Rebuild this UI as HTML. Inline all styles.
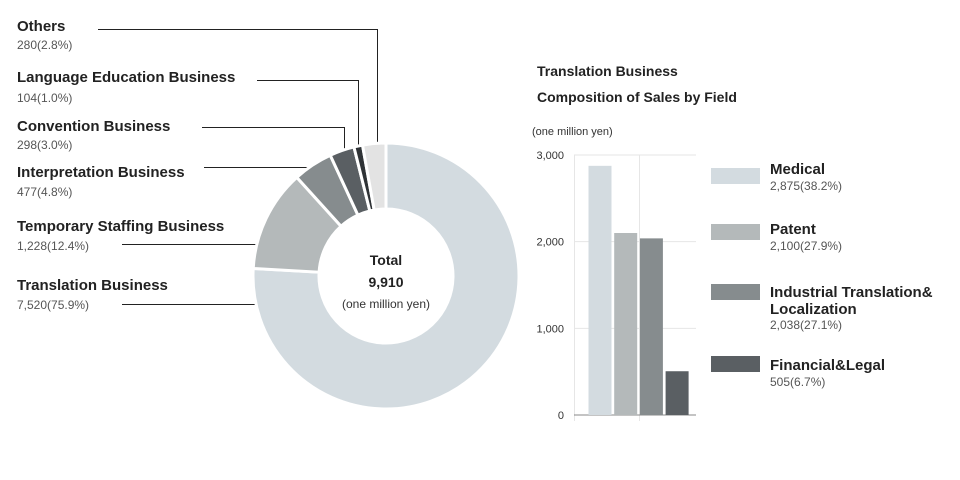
<!DOCTYPE html>
<html><head><meta charset="utf-8"><style>
body{margin:0;background:#fff;font-family:"Liberation Sans","Noto Sans CJK JP",sans-serif;color:#222}
#wrap{position:relative;width:960px;height:480px;overflow:hidden}
.lbl{position:absolute;left:17px;font-size:15px;font-weight:bold;color:#222;white-space:nowrap}
.val{position:absolute;left:17px;font-size:12px;color:#555;white-space:nowrap}
</style></head><body>
<div id="wrap">
<div class="lbl" style="top:18px">Others</div>
<div class="val" style="top:38px">280(2.8%)</div>
<div class="lbl" style="top:69px">Language Education Business</div>
<div class="val" style="top:91px">104(1.0%)</div>
<div class="lbl" style="top:118px">Convention Business</div>
<div class="val" style="top:138px">298(3.0%)</div>
<div class="lbl" style="top:164px">Interpretation Business</div>
<div class="val" style="top:185px">477(4.8%)</div>
<div class="lbl" style="top:218px">Temporary Staffing Business</div>
<div class="val" style="top:239px">1,228(12.4%)</div>
<div class="lbl" style="top:277px">Translation Business</div>
<div class="val" style="top:298px">7,520(75.9%)</div>
<svg id="svg" width="960" height="480" style="position:absolute;left:0;top:0">
<g stroke="#222" stroke-width="1" fill="none">
<polyline points="98,29.5 377.5,29.5 377.5,144"/>
<polyline points="257,80.5 358.5,80.5 358.5,147"/>
<polyline points="202,127.5 344.5,127.5 344.5,150"/>
<polyline points="204,167.5 310,167.5"/>
<polyline points="122,244.5 257,244.5"/>
<polyline points="122,304.5 255,304.5"/>
</g>
<g id="donut"></g>
<text x="386" y="265" text-anchor="middle" font-size="14" font-weight="bold" fill="#222">Total</text>
<text x="386" y="287" text-anchor="middle" font-size="14" font-weight="bold" fill="#222">9,910</text>
<text x="386" y="308" text-anchor="middle" font-size="12" fill="#333">(one million yen)</text>
<text x="537" y="76" font-size="14" font-weight="bold" fill="#222">Translation Business</text>
<text x="537" y="102" font-size="14" font-weight="bold" fill="#222">Composition of Sales by Field</text>
<text x="532" y="135" font-size="11" fill="#333">(one million yen)</text>
<g id="bars"></g>
</svg>
<div class="lbl" style="left:770px;top:161px;line-height:17px">Medical</div>
<div class="val" style="left:770px;top:179px">2,875(38.2%)</div>
<div class="lbl" style="left:770px;top:221px;line-height:17px">Patent</div>
<div class="val" style="left:770px;top:239px">2,100(27.9%)</div>
<div class="lbl" style="left:770px;top:284px;line-height:17px">Industrial Translation&amp;<br>Localization</div>
<div class="val" style="left:770px;top:318px">2,038(27.1%)</div>
<div class="lbl" style="left:770px;top:357px;line-height:17px">Financial&amp;Legal</div>
<div class="val" style="left:770px;top:375px">505(6.7%)</div>
</div>
<script>
const donutNames=["translation","temporary-staffing","interpretation","convention","language-education","others"];
const donutValues=[7520,1228,477,298,104,280];
const donutColors=["#d3dbe0","#b4b9ba","#868c8e","#5a5f63","#2f3336","#e3e3e3"];
const barNames=["medical","patent","industrial","financial"];
const barValues=[2875,2100,2038,505];
const barColors=["#d3dbe0","#b4b9ba","#868c8e","#5a5f63"];
const yTicks=[0,1000,2000,3000];
const yTickLabels=["0","1,000","2,000","3,000"];
const NS="http://www.w3.org/2000/svg";
function mk(t,a){const e=document.createElementNS(NS,t);for(const k in a)e.setAttribute(k,a[k]);return e;}
// donut
const cx=386,cy=276,R=133,r=67;
const total=donutValues.reduce((a,b)=>a+b,0);
const dg=document.getElementById('donut');
let acc=0;
function pt(rad,f){const a=f*2*Math.PI;return [cx+rad*Math.sin(a),cy-rad*Math.cos(a)];}
donutValues.forEach((v,i)=>{
 const f0=acc/total,f1=(acc+v)/total;acc+=v;
 const large=(f1-f0)>0.5?1:0;
 const [x0,y0]=pt(R,f0),[x1,y1]=pt(R,f1),[x2,y2]=pt(r,f1),[x3,y3]=pt(r,f0);
 const p=mk('path',{d:`M${x0},${y0}A${R},${R} 0 ${large} 1 ${x1},${y1}L${x2},${y2}A${r},${r} 0 ${large} 0 ${x3},${y3}Z`,fill:donutColors[i],stroke:'#fff','stroke-width':3});
 
 
 dg.appendChild(p);
});
// bars
const bg=document.getElementById('bars');
const x0=574,x1=696,yBase=415,yTop=155,yMax=3000;
function ys(v){return yBase-(v/yMax)*(yBase-yTop);}
yTicks.forEach((t,i)=>{
 const y=ys(t);
 const l=mk('line',{x1:x0,x2:x1,y1:y,y2:y,stroke:t===0?'#888':'#e6e6e6','stroke-width':1});
 
 
 bg.appendChild(l);
 const tx=mk('text',{x:564,y:y+4,'text-anchor':'end','font-size':11,fill:'#333'});
 tx.textContent=yTickLabels[i];
 
 
 bg.appendChild(tx);
});
[574.5,639.5].forEach((x,i)=>{
 const l=mk('line',{x1:x,x2:x,y1:yTop,y2:yBase+6,stroke:'#e6e6e6'});
 
 
 bg.insertBefore(l,bg.firstChild);
});
const bw=23,step=25.7,bx0=588.5;
barValues.forEach((v,i)=>{
 const x=bx0+i*step;
 const rc=mk('rect',{x:x,y:ys(v),width:bw,height:yBase-ys(v),fill:barColors[i]});
 
 
 bg.appendChild(rc);
 const sw=mk('rect',{x:711,y:[168,224,284,356][i],width:49,height:16,fill:barColors[i]});
 
 
 bg.appendChild(sw);
});
</script>
</body></html>
